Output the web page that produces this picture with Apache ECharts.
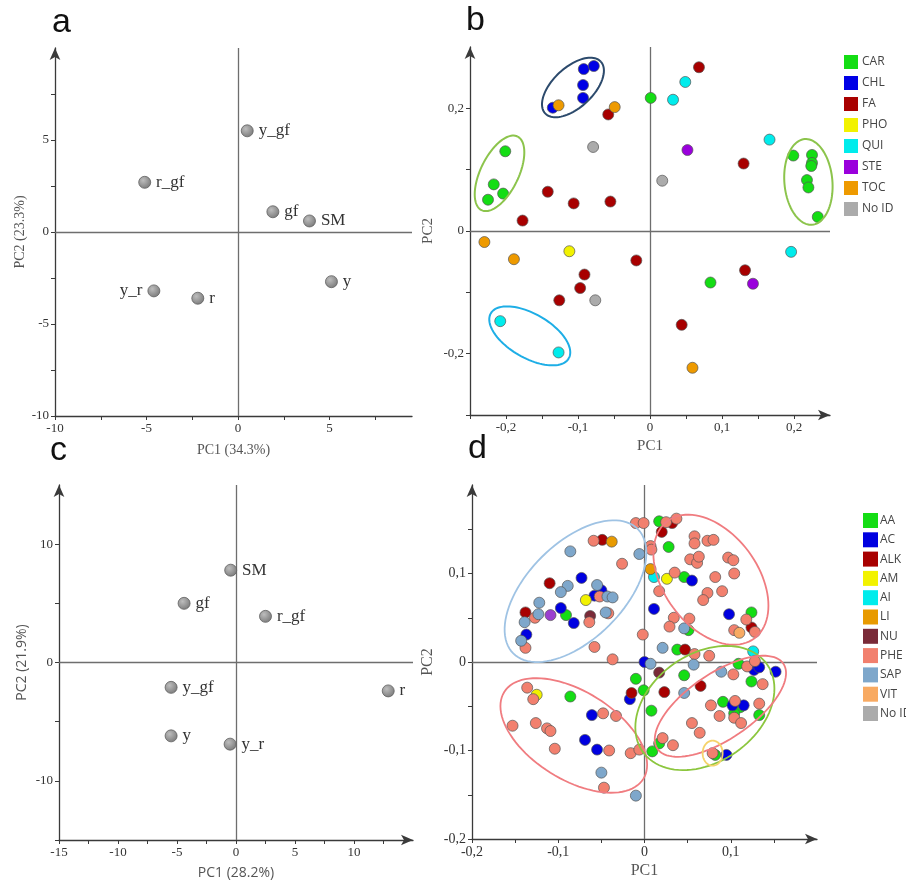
<!DOCTYPE html>
<html><head><meta charset="utf-8">
<script src="https://cdn.jsdelivr.net/npm/echarts@6/dist/echarts.min.js"></script>
<style>html,body{margin:0;padding:0;background:#fff}#c{width:906px;height:881px}</style>
</head><body><div id="c"></div>
<script>
// ---------- Panel a ----------
const aLabels = ['y_gf','r_gf','gf','SM','y','y_r','r'];
const aPC1 = [0.5,-5.1,1.9,3.9,5.1,-4.6,-2.2];
const aPC2 = [5.5,2.7,1.1,0.6,-2.7,-3.2,-3.6];
// ---------- Panel c ----------
const cLabels = ['SM','gf','r_gf','y_gf','r','y','y_r'];
const cPC1 = [-0.45,-4.4,2.5,-5.5,12.9,-5.5,-0.5];
const cPC2 = [7.8,5.0,3.9,-2.1,-2.4,-6.2,-6.9];
// ---------- Panel b (PC1, PC2 per class) ----------
const bCAR = [[0.001,0.217],[-0.201,0.130],[-0.217,0.076],[-0.204,0.061],[-0.225,0.051],[0.199,0.123],[0.225,0.124],[0.225,0.111],[0.224,0.106],[0.218,0.083],[0.220,0.071],[0.233,0.023],[0.084,-0.084]];
const bCHL = [[-0.092,0.264],[-0.078,0.269],[-0.093,0.238],[-0.093,0.217],[-0.135,0.201]];
const bFA = [[-0.058,0.190],[-0.142,0.064],[-0.106,0.045],[-0.055,0.048],[-0.177,0.017],[-0.019,-0.048],[-0.091,-0.071],[-0.097,-0.093],[-0.126,-0.113],[0.068,0.267],[0.130,0.110],[0.132,-0.064],[0.044,-0.153]];
const bPHO = [[-0.112,-0.033]];
const bQUI = [[0.049,0.243],[0.032,0.214],[0.166,0.149],[0.196,-0.034],[-0.208,-0.147],[-0.127,-0.198]];
const bSTE = [[0.052,0.132],[0.143,-0.086]];
const bTOC = [[-0.127,0.205],[-0.049,0.202],[-0.230,-0.018],[-0.189,-0.046],[0.059,-0.223]];
const bNoID = [[-0.079,0.137],[0.017,0.082],[-0.076,-0.113]];
// ---------- Panel d (PC1, PC2 per class) ----------
const dAA = [[0.017,0.159],[0.028,0.130],[0.046,0.096],[0.124,0.056],[0.051,0.036],[0.038,0.014],[0.109,-0.002],[0.046,-0.015],[0.124,-0.022],[-0.091,0.053],[-0.010,-0.019],[-0.001,-0.032],[0.008,-0.055],[-0.086,-0.039],[0.009,-0.101],[0.091,-0.045],[0.111,-0.051],[0.104,-0.058],[0.133,-0.060],[0.017,-0.092],[0.082,-0.105]];
const dAC = [[0.055,0.092],[-0.073,0.095],[-0.050,0.081],[-0.058,0.075],[-0.097,0.061],[-0.082,0.044],[-0.137,0.031],[0.000,0.000],[0.011,0.060],[0.098,0.054],[0.127,-0.009],[0.133,-0.006],[0.152,-0.011],[-0.017,-0.042],[-0.061,-0.060],[-0.069,-0.088],[-0.055,-0.099],[0.102,-0.049],[0.115,-0.049],[0.095,-0.105]];
const dALK = [[-0.049,0.138],[0.032,0.157],[0.020,0.147],[-0.110,0.089],[-0.138,0.056],[0.124,0.039],[0.047,0.014],[0.065,-0.027],[-0.015,-0.035],[0.023,-0.034]];
const dAM = [[-0.068,0.070],[0.026,0.094],[-0.125,-0.037]];
const dAI = [[0.011,0.096],[0.126,0.012]];
const dLI = [[-0.038,0.136],[0.007,0.105]];
const dNU = [[-0.063,0.052],[0.017,-0.012]];
const dPHE = [[-0.010,0.157],[-0.001,0.157],[-0.059,0.137],[-0.026,0.111],[-0.052,0.074],[-0.042,0.055],[-0.127,0.050],[-0.064,0.045],[-0.138,0.016],[-0.058,0.017],[-0.037,0.003],[-0.002,0.031],
 [0.025,0.158],[0.037,0.162],[0.007,0.131],[0.008,0.127],[0.058,0.142],[0.058,0.134],[0.073,0.137],[0.080,0.138],[0.053,0.116],[0.061,0.112],[0.063,0.119],[0.035,0.101],[0.082,0.096],[0.017,0.080],[0.073,0.078],[0.097,0.118],[0.103,0.115],[0.104,0.100],[0.068,0.070],[0.090,0.080],[0.034,0.050],[0.052,0.049],[0.118,0.048],[0.029,0.040],[0.104,0.036],[0.128,0.034],[0.058,0.009],[0.075,0.007],[0.119,-0.005],[0.128,0.001],[0.103,-0.014],[0.137,-0.025],
 [-0.048,-0.058],[-0.033,-0.061],[-0.136,-0.029],[-0.129,-0.042],[-0.153,-0.072],[-0.126,-0.069],[-0.113,-0.075],[-0.109,-0.078],[-0.104,-0.098],[-0.041,-0.100],[-0.016,-0.103],[-0.006,-0.099],[-0.047,-0.142],
 [0.077,-0.049],[0.105,-0.044],[0.133,-0.047],[0.087,-0.061],[0.104,-0.063],[0.112,-0.069],[0.055,-0.069],[0.064,-0.080],[0.021,-0.086],[0.033,-0.094],[0.079,-0.103]];
const dSAP = [[-0.086,0.125],[-0.006,0.122],[-0.089,0.086],[-0.097,0.079],[-0.055,0.087],[-0.043,0.074],[-0.037,0.073],[-0.122,0.067],[-0.123,0.054],[-0.045,0.056],[-0.139,0.045],[-0.143,0.024],[0.046,0.038],[0.021,0.016],[0.007,-0.002],[0.057,-0.003],[0.089,-0.011],[0.046,-0.035],[-0.050,-0.125],[-0.010,-0.151]];
const dVIT = [[0.110,0.033]];
const dOther = [[-0.109,0.053]];

// tick positions (values) for each axis
const aXTicks = [-10,-7.5,-5,-2.5,0,2.5,5,7.5];
const aYTicks = [-10,-7.5,-5,-2.5,0,2.5,5,7.5];
const bXTicks = [-0.25,-0.2,-0.15,-0.1,-0.05,0,0.05,0.1,0.15,0.2];
const bYTicks = [-0.3,-0.2,-0.1,0,0.1,0.2];
const cXTicks = [-15,-12.5,-10,-7.5,-5,-2.5,0,2.5,5,7.5,10,12.5];
const cYTicks = [-15,-10,-5,0,5,10];
const dXTicks = [-0.2,-0.15,-0.1,-0.05,0,0.05,0.1,0.15];
const dYTicks = [-0.2,-0.15,-0.1,-0.05,0,0.05,0.1,0.15];

// group ellipses (centre in data units; radii px; rotation deg)
const bEllipses = [[-0.107,0.234,38,20,43],[-0.209,0.094,41,19,64],[-0.167,-0.171,45,22,-30],[0.220,0.080,43,24,-85]];
const bEllColors = ['#2c4a6c','#8cc44c','#1eaee6','#8cc44c'];
const dEllipses = [[-0.080,0.080,88,48,45],[0.077,0.093,73,47,-53.6],[-0.082,-0.083,82,44,-32],[0.070,-0.052,76,54,35],[0.088,-0.050,76,33,34],[0.079,-0.103,10,12.5,0]];
const dEllColors = ['#9fc3e4','#f07c80','#f07c80','#8cc63e','#f07c80','#f5d36a'];

const SERIF = 'Liberation Serif';
const SANS = 'Open Sans';

function ax(grid, min, max, interval, fmt, ticks, arrow, name, gap, nameFont, labelSize) {
  return {
    type:'value', gridIndex:grid, min, max, interval,
    splitLine:{show:false},
    axisLine:{show:true, onZero:false, lineStyle:{color:'#3a3a3a', width:1.3}, symbol:arrow?['none','arrow']:['none','none'], symbolSize:[8,12]},
    axisTick:{show:true, length:4, customValues:ticks, lineStyle:{color:'#3a3a3a'}},
    minorTick:{show:false},
    axisLabel:{formatter:fmt, fontFamily:SERIF, fontSize:labelSize||13, color:'#333', margin:6, showMinLabel:true, showMaxLabel:true, hideOverlap:false},
    name, nameLocation:'middle', nameGap:gap,
    nameTextStyle:Object.assign({fontFamily:SERIF, fontSize:14, color:'#555'}, nameFont||{})
  };
}
const num = (allowed) => v => { const k = Math.round(v*100)/100; return allowed.includes(k) ? String(k) : ''; };
const comma = (allowed) => v => { const k = Math.round(v*100); return allowed.includes(k) ? (k===0?'0':(k/100).toFixed(1).replace('.',',')) : ''; };

const zeroLines = {silent:true, symbol:'none', animation:false, label:{show:false}, emphasis:{disabled:true},
  lineStyle:{color:'#6e6e6e', width:1.3, type:'solid'}, data:[{xAxis:0},{yAxis:0}]};

const ballColor = {type:'radial', x:0.38, y:0.35, r:0.75, colorStops:[{offset:0,color:'#bdbdbd'},{offset:1,color:'#747474'}]};

function labelled(xs, ys, names, gi, leftSet) {
  return {
    type:'scatter', xAxisIndex:gi, yAxisIndex:gi, symbolSize:12, z:5,
    itemStyle:{color:ballColor, borderColor:'#606060', borderWidth:0.8, opacity:1},
    label:{show:true, formatter:p=>p.data.name, fontFamily:SERIF, fontSize:17, color:'#333', distance:5},
    labelLayout:{hideOverlap:false},
    emphasis:{disabled:true},
    data: xs.map((x,i)=>({value:[x, ys[i]], name:names[i], label:{position: leftSet.includes(names[i])?'left':'right'}})),
    markLine: zeroLines
  };
}
function cls(name, arr, color, gi) {
  return {type:'scatter', name, xAxisIndex:gi, yAxisIndex:gi, symbolSize:11, z:5, data:arr,
    itemStyle:{color, borderColor:'#555', borderWidth:0.7, opacity:1}, emphasis:{disabled:true}};
}
function ellRender(colors, lw) {
  return function(params, api) {
    const c = api.coord([api.value(0), api.value(1)]);
    const rx = api.value(2), ry = api.value(3), r = api.value(4)*Math.PI/180;
    const pts = [];
    for (let i=0;i<=96;i++) {
      const t = 2*Math.PI*i/96;
      const dx = rx*Math.cos(t)*Math.cos(r) - ry*Math.sin(t)*Math.sin(r);
      const dy = rx*Math.cos(t)*Math.sin(r) + ry*Math.sin(t)*Math.cos(r);
      pts.push([c[0]+dx, c[1]-dy]);
    }
    return {type:'polyline', shape:{points:pts}, style:{fill:null, stroke:colors[params.dataIndex], lineWidth:lw}, silent:true};
  };
}

const bCols = {CAR:'#14dd14', CHL:'#0000e6', FA:'#a80000', PHO:'#f2f200', QUI:'#00ecec', STE:'#9a00dc', TOC:'#ee9a00', 'No ID':'#ababab'};
const dCols = {AA:'#14dd14', AC:'#0000e0', ALK:'#a80000', AM:'#f2f200', AI:'#00ecec', LI:'#e89a00', NU:'#7a2a38', PHE:'#f2806e', SAP:'#7ea7cb', VIT:'#f8aa62', 'No ID':'#ababab'};

const series = [
  labelled(aPC1, aPC2, aLabels, 0, ['y_r']),
  Object.assign(cls('CAR', bCAR, bCols.CAR, 1), {markLine: zeroLines}),
  cls('CHL', bCHL, bCols.CHL, 1), cls('FA', bFA, bCols.FA, 1), cls('PHO', bPHO, bCols.PHO, 1),
  cls('QUI', bQUI, bCols.QUI, 1), cls('STE', bSTE, bCols.STE, 1), cls('TOC', bTOC, bCols.TOC, 1), cls('No ID', bNoID, bCols['No ID'], 1),
  {type:'custom', xAxisIndex:1, yAxisIndex:1, data:bEllipses, encode:{x:0,y:1}, renderItem:ellRender(bEllColors,2), z:6, silent:true},
  labelled(cPC1, cPC2, cLabels, 2, []),
  Object.assign(cls('AA', dAA, dCols.AA, 3), {markLine: zeroLines}),
  cls('AC', dAC, dCols.AC, 3), cls('ALK', dALK, dCols.ALK, 3), cls('AM', dAM, dCols.AM, 3), cls('AI', dAI, dCols.AI, 3),
  cls('LI', dLI, dCols.LI, 3), cls('NU', dNU, dCols.NU, 3), cls('PHE', dPHE, dCols.PHE, 3), cls('SAP', dSAP, dCols.SAP, 3),
  cls('VIT', dVIT, dCols.VIT, 3), cls('other', dOther, '#9b3fd0', 3),
  {type:'custom', xAxisIndex:3, yAxisIndex:3, data:dEllipses, encode:{x:0,y:1}, renderItem:ellRender(dEllColors,1.8), z:6, silent:true}
];

const option = {
  animation:false,
  backgroundColor:'#fff',
  grid:[
    {left:55, top:48, width:357, height:368},
    {left:470, top:47, width:360, height:368},
    {left:59, top:485, width:354, height:356},
    {left:472, top:485, width:345, height:354}
  ],
  xAxis:[
    ax(0, -10, 9.5, 5, num([-10,-5,0,5]), aXTicks, false, 'PC1 (34.3%)', 27, null),
    ax(1, -0.25, 0.25, 0.05, comma([-20,-10,0,10,20]), bXTicks, true, 'PC1', 24, {fontSize:15}),
    ax(2, -15, 15, 5, num([-15,-10,-5,0,5,10]), cXTicks, true, 'PC1 (28.2%)', 26, {fontFamily:SANS, fontSize:14}),
    ax(3, -0.2, 0.2, 0.1, comma([-20,-10,0,10]), dXTicks, true, 'PC1', 24, {fontSize:16}, 14)
  ],
  yAxis:[
    ax(0, -10, 10, 5, num([-10,-5,0,5]), aYTicks, true, 'PC2 (23.3%)', 28, null),
    ax(1, -0.3, 0.3, 0.1, comma([-20,0,20]), bYTicks, true, 'PC2', 34, {fontSize:15}),
    ax(2, -15, 15, 5, num([-10,0,10]), cYTicks, true, 'PC2 (21.9%)', 30, {fontFamily:SANS, fontSize:14}),
    ax(3, -0.2, 0.2, 0.1, comma([-20,-10,0,10]), dYTicks, true, 'PC2', 36, {fontSize:16}, 14)
  ],
  legend:[
    {data:['CAR','CHL','FA','PHO','QUI','STE','TOC','No ID'], orient:'vertical', left:839, top:50, itemWidth:14, itemHeight:14, itemGap:7,
     icon:'rect', selectedMode:false, itemStyle:{borderWidth:0, opacity:1}, textStyle:{fontFamily:SANS, fontSize:12, color:'#444', padding:[0,0,0,-1]}},
    {data:['AA','AC','ALK','AM','AI','LI','NU','PHE','SAP','VIT','No ID'], orient:'vertical', left:858, top:508, itemWidth:15, itemHeight:15, itemGap:4.3,
     icon:'rect', selectedMode:false, itemStyle:{borderWidth:0, opacity:1}, textStyle:{fontFamily:SANS, fontSize:12, color:'#444', padding:[0,0,0,-3]}}
  ],
  graphic:[
    {type:'text', left:52, top:6, style:{text:'a', font:'34px "Liberation Sans"', fill:'#111'}},
    {type:'text', left:466, top:4, style:{text:'b', font:'34px "Liberation Sans"', fill:'#111'}},
    {type:'text', left:50, top:434, style:{text:'c', font:'34px "Liberation Sans"', fill:'#111'}},
    {type:'text', left:468, top:432, style:{text:'d', font:'34px "Liberation Sans"', fill:'#111'}}
  ],
  series
};
const chart = echarts.init(document.getElementById('c'), null, {renderer:'canvas'});
chart.setOption(option);
</script></body></html>
